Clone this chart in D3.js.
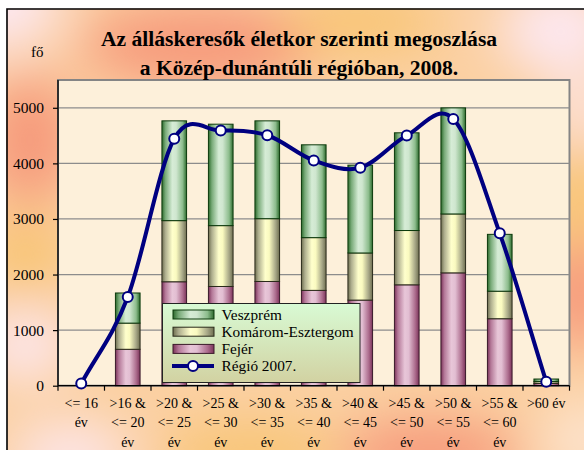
<!DOCTYPE html>
<html><head><meta charset="utf-8">
<script src="https://cdn.jsdelivr.net/npm/d3@7"></script>
<style>html,body{margin:0;padding:0;background:#fff;}svg{display:block;}</style>
</head><body>
<svg id="chart" width="584" height="450"></svg>
<script>
// ---- data ----
const categories = ["<= 16\név", ">16 &\n<= 20\név", ">20 &\n<= 25\név", ">25 &\n<= 30\név", ">30 &\n<= 35\név",
  ">35 &\n<= 40\név", ">40 &\n<= 45\név", ">45 &\n<= 50\név", ">50 &\n<= 55\név", ">55 &\n<= 60\név", ">60 év"];
const fejer     = [0, 655, 1870, 1785, 1875, 1715, 1540, 1815, 2030, 1205, 40];
const komarom   = [0, 471, 1100, 1095, 1130, 949, 848, 977, 1060, 495, 35];
const veszprem  = [0, 542, 1795, 1825, 1760, 1670, 1580, 1758, 1908, 1023, 45];
const regio2007 = [40, 1595, 4443, 4590, 4506, 4052, 3921, 4501, 4800, 2741, 70];
const yTicks = [0, 1000, 2000, 3000, 4000, 5000];
const seriesNames = ["Veszprém", "Komárom-Esztergom", "Fejér", "Régió 2007."];
const titleLines = ["Az álláskeresők életkor szerinti megoszlása", "a Közép-dunántúli régióban, 2008."];
const yUnit = "fő";

const svg = d3.select("#chart");
const W = 584, H = 450;
const plot = {l: 58, t: 80, r: 569.5, b: 385.7};
const serif = "'Liberation Serif','Times New Roman',serif";

const defs = svg.append("defs");
const blur = defs.append("filter").attr("id", "blur").attr("x", "-50%").attr("y", "-50%").attr("width", "200%").attr("height", "200%");
blur.append("feGaussianBlur").attr("stdDeviation", 26);

function hGrad(id, stops) {
  const g = defs.append("linearGradient").attr("id", id).attr("x1", "0").attr("x2", "1").attr("y1", "0").attr("y2", "0");
  stops.forEach(s => g.append("stop").attr("offset", s[0]).attr("stop-color", s[1]));
}
hGrad("gGreen", [[0, "#2c6a2c"], [0.14, "#78aa78"], [0.42, "#d6ecd6"], [0.58, "#cfe6cf"], [0.84, "#8cbc8c"], [1, "#2c6a2c"]]);
hGrad("gYellow", [[0, "#6e6e50"], [0.14, "#aeae8e"], [0.42, "#ffffcc"], [0.58, "#fafac0"], [0.84, "#a6a686"], [1, "#6e6e50"]]);
hGrad("gPink", [[0, "#7c335a"], [0.14, "#b47898"], [0.42, "#e8c6d8"], [0.58, "#e2bed2"], [0.84, "#ad6d8e"], [1, "#7c335a"]]);
const lg = defs.append("linearGradient").attr("id", "gLegend").attr("x1", 0).attr("x2", 0).attr("y1", 0).attr("y2", 1);
lg.append("stop").attr("offset", 0).attr("stop-color", "#d8fad4");
lg.append("stop").attr("offset", 1).attr("stop-color", "#d2d2a2");

// ---- chart area background ----
const bgG = svg.append("g");
bgG.append("rect").attr("x", 7).attr("y", 9).attr("width", W).attr("height", H).attr("fill", "#fbd0a2");
const blobs = bgG.append("g").attr("filter", "url(#blur)");
[
  [200, 45, 120, 40, "#f6997a"], [30, 140, 45, 65, "#f6997a"], [580, 290, 40, 60, "#f6997a"], [430, 455, 90, 35, "#f6997a"],
  [360, 22, 80, 30, "#f8c472"], [25, 255, 40, 40, "#f8c472"], [580, 200, 35, 50, "#f8c472"], [250, 455, 90, 30, "#f8c472"],
  [0, 0, 60, 50, "#fde8f2"], [560, 30, 60, 45, "#fde8f2"], [25, 345, 45, 35, "#fde8f2"], [70, 455, 60, 30, "#fde8f2"],
  [584, 110, 25, 30, "#fde8f2"], [584, 440, 40, 40, "#fde4d0"]
].forEach(b => blobs.append("ellipse").attr("cx", b[0]).attr("cy", b[1]).attr("rx", b[2]).attr("ry", b[3]).attr("fill", b[4]));
svg.append("rect").attr("x", 0).attr("y", 0).attr("width", W).attr("height", 8.2).attr("fill", "#fff");
svg.append("rect").attr("x", 0).attr("y", 0).attr("width", 6.2).attr("height", H).attr("fill", "#fff");
svg.append("path").attr("d", `M7,${H} L7,9 L${W},9`).attr("fill", "none").attr("stroke", "#000").attr("stroke-width", 1.6);

// ---- scales ----
const x = d3.scaleBand().domain(categories).range([plot.l, plot.r]).padding(0);
const y = d3.scaleLinear().domain([0, 5500]).range([plot.b, plot.t]);
const barW = x.bandwidth() * 0.53;
const cx = c => x(c) + x.bandwidth() / 2;

// plot area
svg.append("rect").attr("x", plot.l).attr("y", plot.t).attr("width", plot.r - plot.l).attr("height", plot.b - plot.t)
  .attr("fill", "#fdf0da").attr("stroke", "#858585").attr("stroke-width", 2);

// gridlines
svg.append("g").selectAll("line").data(yTicks.filter(d => d > 0)).join("line")
  .attr("x1", plot.l).attr("x2", plot.r).attr("y1", d => y(d)).attr("y2", d => y(d))
  .attr("stroke", "#8c8c8c").attr("stroke-width", 1.2);

// ---- stacked bars ----
const stackData = categories.map((c, i) => ({cat: c, "Fejér": fejer[i], "Komárom": komarom[i], "Veszprém": veszprem[i]}));
const stack = d3.stack().keys(["Fejér", "Komárom", "Veszprém"])(stackData);
const fills = {"Fejér": "url(#gPink)", "Komárom": "url(#gYellow)", "Veszprém": "url(#gGreen)"};
const strokes = {"Fejér": "#3a1a2a", "Komárom": "#2a2a1a", "Veszprém": "#0c3a0c"};
svg.append("g").selectAll("g").data(stack).join("g")
  .attr("fill", d => fills[d.key]).attr("stroke", d => strokes[d.key]).attr("stroke-width", 1)
  .selectAll("rect").data(d => d).join("rect")
  .attr("x", d => x(d.data.cat) + (x.bandwidth() - barW) / 2)
  .attr("y", d => y(d[1]))
  .attr("width", barW)
  .attr("height", d => Math.max(0, y(d[0]) - y(d[1])))
  .attr("display", d => d[1] - d[0] > 0 ? null : "none");

// ---- axes ----
const yAxis = svg.append("g").attr("transform", `translate(${plot.l},0)`)
  .call(d3.axisLeft(y).tickValues(yTicks).tickSize(5).tickPadding(6).tickFormat(d3.format("d")));
yAxis.select(".domain").attr("d", `M0,${plot.t}V${plot.b}`).attr("stroke", "#000").attr("stroke-width", 1.3);
yAxis.selectAll(".tick line").attr("stroke", "#000").attr("stroke-width", 1.2);
yAxis.selectAll(".tick text").attr("font-family", serif).attr("font-size", 15.5).attr("fill", "#000").attr("x", -14);

const xAxis = svg.append("g").attr("transform", `translate(0,${plot.b})`)
  .call(d3.axisBottom(x).tickSize(0).tickFormat(""));
xAxis.select(".domain").attr("d", `M${plot.l},0H${plot.r}`).attr("stroke", "#000").attr("stroke-width", 1.3);
const bounds = categories.map(c => x(c)).concat([plot.r]);
xAxis.append("g").selectAll("line").data(bounds).join("line")
  .attr("x1", d => d).attr("x2", d => d).attr("y1", 0).attr("y2", 5).attr("stroke", "#000").attr("stroke-width", 1.2);
xAxis.selectAll(".tick text").remove();
const xl = svg.append("g").attr("font-family", serif).attr("font-size", 14).attr("fill", "#000").attr("text-anchor", "middle");
categories.forEach(c => {
  c.split("\n").forEach((ln, j) => {
    xl.append("text").attr("x", cx(c)).attr("y", 408 + j * 19.3).text(ln);
  });
});

// ---- smoothed line (Excel-style Bezier smoothing) ----
const pts = regio2007.map((v, i) => [cx(categories[i]), y(v)]);
function smoothPath(p) {
  const n = p.length, path = d3.path();
  const get = i => {
    if (i < 0) return [2 * p[0][0] - p[1][0], 2 * p[0][1] - p[1][1]];
    if (i >= n) return [2 * p[n - 1][0] - p[n - 2][0], 2 * p[n - 1][1] - p[n - 2][1]];
    return p[i];
  };
  path.moveTo(p[0][0], p[0][1]);
  for (let i = 0; i < n - 1; i++) {
    const p0 = get(i - 1), p1 = p[i], p2 = p[i + 1], p3 = get(i + 2);
    path.bezierCurveTo(p1[0] + (p2[0] - p0[0]) / 6, p1[1] + (p2[1] - p0[1]) / 6,
                       p2[0] - (p3[0] - p1[0]) / 6, p2[1] - (p3[1] - p1[1]) / 6, p2[0], p2[1]);
  }
  return path.toString();
}
svg.append("path").attr("d", smoothPath(pts)).attr("fill", "none").attr("stroke", "#000080").attr("stroke-width", 4);
svg.append("g").selectAll("circle").data(regio2007).join("circle")
  .attr("cx", (d, i) => cx(categories[i])).attr("cy", d => y(d)).attr("r", 5)
  .attr("fill", "#fff").attr("stroke", "#000080").attr("stroke-width", 2);

// ---- titles ----
const tt = svg.append("g").attr("font-family", serif).attr("font-weight", "bold").attr("font-size", 21.6).attr("text-anchor", "middle").attr("fill", "#000");
titleLines.forEach((t, i) => tt.append("text").attr("x", 299).attr("y", 46 + i * 29).text(t));
svg.append("text").attr("x", 31).attr("y", 57).attr("font-family", serif).attr("font-size", 15).text(yUnit);

// ---- legend ----
const leg = svg.append("g");
leg.append("rect").attr("x", 162.5).attr("y", 303.5).attr("width", 197.5).attr("height", 79)
  .attr("fill", "url(#gLegend)").attr("stroke", "#222").attr("stroke-width", 1);
const legFills = ["url(#gGreen)", "url(#gYellow)", "url(#gPink)"];
const legStrokes = [strokes["Veszprém"], strokes["Komárom"], strokes["Fejér"]];
seriesNames.forEach((n, i) => {
  const cy = 314.5 + i * 17.2;
  if (i < 3) {
    leg.append("rect").attr("x", 173).attr("y", cy - 4.5).attr("width", 41).attr("height", 9)
      .attr("fill", legFills[i]).attr("stroke", legStrokes[i]).attr("stroke-width", 1);
  } else {
    leg.append("line").attr("x1", 172).attr("x2", 214).attr("y1", cy).attr("y2", cy).attr("stroke", "#000080").attr("stroke-width", 4);
    leg.append("circle").attr("cx", 193).attr("cy", cy).attr("r", 5).attr("fill", "#fff").attr("stroke", "#000080").attr("stroke-width", 2);
  }
  leg.append("text").attr("x", 221.5).attr("y", cy + 5).attr("font-family", serif).attr("font-size", 15.3).attr("fill", "#000").text(n);
});
</script>
</body></html>
